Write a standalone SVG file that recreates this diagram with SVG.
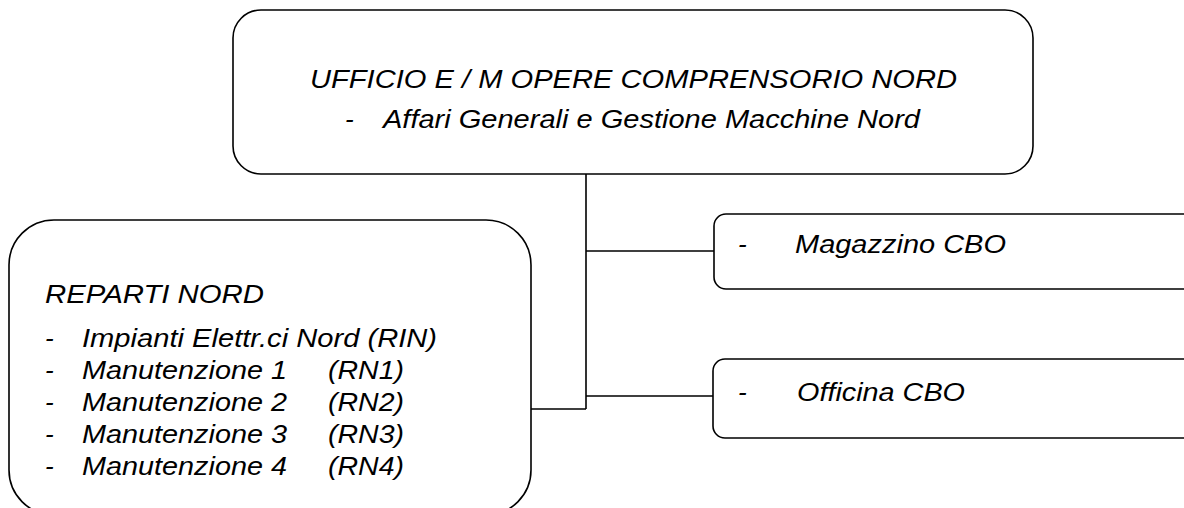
<svg xmlns="http://www.w3.org/2000/svg" width="1184" height="508" viewBox="0 0 1184 508">
<style>
.box{fill:#fff;stroke:#000;stroke-width:1.6}
.ln{fill:none;stroke:#000;stroke-width:1.6}
text{font-family:"Liberation Sans",Arial,sans-serif;font-style:italic;font-size:26px;fill:#000}
</style>
<rect width="1184" height="508" fill="#fff"/>
<g id="connectors">
<path class="ln" d="M586,174 V409 M586,251 H714 M586,396 H713 M531,409 H586"/>
</g>
<g id="ufficio">
<rect class="box" x="233" y="10" width="800" height="164" rx="28" ry="28"/>
<text x="310" y="88" textLength="647" lengthAdjust="spacingAndGlyphs">UFFICIO E / M OPERE COMPRENSORIO NORD</text>
<text x="345" y="128">-</text>
<text x="383" y="128" textLength="537" lengthAdjust="spacingAndGlyphs">Affari Generali e Gestione Macchine Nord</text>
</g>
<g id="reparti">
<rect class="box" x="9" y="220" width="522" height="295" rx="45" ry="45"/>
<text x="45" y="303" textLength="219" lengthAdjust="spacingAndGlyphs">REPARTI NORD</text>
<text x="45" y="347">-</text>
<text x="82" y="347" textLength="355" lengthAdjust="spacingAndGlyphs">Impianti Elettr.ci Nord (RIN)</text>
<text x="45" y="379">-</text>
<text x="82" y="379" textLength="205" lengthAdjust="spacingAndGlyphs">Manutenzione 1</text>
<text x="328" y="379" textLength="76" lengthAdjust="spacingAndGlyphs">(RN1)</text>
<text x="45" y="411">-</text>
<text x="82" y="411" textLength="205" lengthAdjust="spacingAndGlyphs">Manutenzione 2</text>
<text x="328" y="411" textLength="76" lengthAdjust="spacingAndGlyphs">(RN2)</text>
<text x="45" y="443">-</text>
<text x="82" y="443" textLength="205" lengthAdjust="spacingAndGlyphs">Manutenzione 3</text>
<text x="328" y="443" textLength="76" lengthAdjust="spacingAndGlyphs">(RN3)</text>
<text x="45" y="475">-</text>
<text x="82" y="475" textLength="205" lengthAdjust="spacingAndGlyphs">Manutenzione 4</text>
<text x="328" y="475" textLength="76" lengthAdjust="spacingAndGlyphs">(RN4)</text>
</g>
<g id="magazzino">
<rect class="box" x="714" y="214" width="500" height="75" rx="12" ry="12"/>
<text x="738" y="253">-</text>
<text x="795" y="253" textLength="211" lengthAdjust="spacingAndGlyphs">Magazzino CBO</text>
</g>
<g id="officina">
<rect class="box" x="713" y="359" width="500" height="79" rx="12" ry="12"/>
<text x="738" y="401">-</text>
<text x="797" y="401" textLength="168" lengthAdjust="spacingAndGlyphs">Officina CBO</text>
</g>
</svg>
